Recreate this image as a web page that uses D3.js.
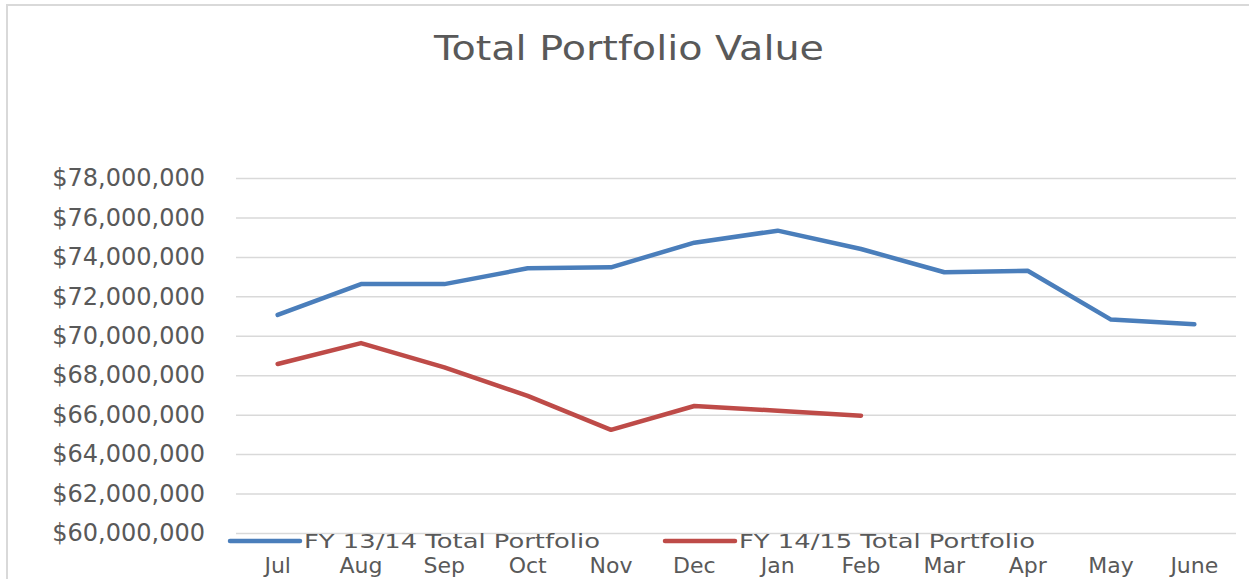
<!DOCTYPE html>
<html>
<head>
<meta charset="utf-8">
<script src="https://cdn.jsdelivr.net/npm/d3@7"></script>
<style>
  html, body { margin: 0; padding: 0; background: #fff; }
  svg { display: block; }
  text { font-family: "DejaVu Sans", sans-serif; fill: #595959; }
</style>
</head>
<body>
<div id="chart"></div>
<script>
// data
var months = ['Jul', 'Aug', 'Sep', 'Oct', 'Nov', 'Dec', 'Jan', 'Feb', 'Mar', 'Apr', 'May', 'June'];
var fy1314 = [71060000, 72620000, 72620000, 73420000, 73470000, 74720000, 75330000, 74400000, 73220000, 73300000, 70820000, 70580000];
var fy1415 = [68570000, 69630000, 68400000, 66950000, 65230000, 66440000, 66200000, 65950000];
var yTicks = [60000000, 62000000, 64000000, 66000000, 68000000, 70000000, 72000000, 74000000, 76000000, 78000000];
var seriesNames = ['FY 13/14 Total Portfolio', 'FY 14/15 Total Portfolio'];

function draw(svg, width, height) {

	svg
		.attr('width', width)
		.attr('height', height);

	// chart border
	svg.append('path')
		.attr('d', 'M7,' + height + 'V5H' + width)
		.attr('fill', 'none')
		.attr('stroke', '#d9d9d9')
		.attr('stroke-width', 2);

	// title
	svg.append('text')
		.attr('x', 629)
		.attr('y', 60)
		.attr('text-anchor', 'middle')
		.attr('font-size', 34)
		.attr('textLength', 390)
		.attr('lengthAdjust', 'spacingAndGlyphs')
		.text('Total Portfolio Value');

	var left = 236, right = 1236, top = 178, bottom = 533;

	// x-scale
	var xScale = d3.scaleBand()
		.domain(months)
		.range([left, right]);

	// y-scale
	var yScale = d3.scaleLinear()
		.domain([60000000, 78000000])
		.range([bottom, top]);

	var fmt = d3.format('$,');

	// y-grid
	svg.append('g')
		.attr('class', 'y-grid')
		.attr('transform', 'translate(' + left + ',0)')
		.call(d3.axisLeft(yScale)
			.tickValues(yTicks)
			.tickSize(-(right - left))
			.tickFormat(''))
		.call(function(g) {
			g.select('.domain').remove();
			g.selectAll('line').attr('stroke', '#d9d9d9').attr('stroke-width', 1.5);
		});

	// y-axis labels
	svg.append('g')
		.attr('class', 'y-axis')
		.attr('transform', 'translate(205,0)')
		.call(d3.axisLeft(yScale)
			.tickValues(yTicks)
			.tickSize(0)
			.tickPadding(0)
			.tickFormat(fmt))
		.call(function(g) {
			g.select('.domain').remove();
			g.selectAll('text')
				.attr('font-size', 24)
				.attr('font-family', '"DejaVu Sans", sans-serif')
				.attr('fill', '#595959');
		});

	// x-axis labels
	svg.append('g')
		.attr('class', 'x-axis')
		.attr('transform', 'translate(0,557)')
		.call(d3.axisBottom(xScale)
			.tickSize(0)
			.tickPadding(0))
		.call(function(g) {
			g.select('.domain').remove();
			g.selectAll('text')
				.attr('font-size', 22)
				.attr('font-family', '"DejaVu Sans", sans-serif')
				.attr('fill', '#595959');
		});

	var line = d3.line()
		.x(function(d, i) { return xScale(months[i]) + xScale.bandwidth() / 2; })
		.y(function(d) { return yScale(d); });

	var series = [
		{ name: seriesNames[0], values: fy1314, color: '#4a7ebb' },
		{ name: seriesNames[1], values: fy1415, color: '#be4b48' }
	];

	svg.append('g')
		.attr('class', 'data')
		.selectAll('path').data(series)
		.enter()
		.append('path')
		.attr('d', function(d) { return line(d.values); })
		.attr('fill', 'none')
		.attr('stroke', function(d) { return d.color; })
		.attr('stroke-width', 4.5)
		.attr('stroke-linecap', 'round')
		.attr('stroke-linejoin', 'round');

	// legend
	var legendX = [230, 665];
	var legend = svg.append('g')
		.attr('class', 'legend')
		.selectAll('g').data(series)
		.enter()
		.append('g')
		.attr('transform', function(d, i) { return 'translate(' + legendX[i] + ',541)'; });

	legend.append('line')
		.attr('x1', 0)
		.attr('x2', 70)
		.attr('stroke', function(d) { return d.color; })
		.attr('stroke-width', 4.5)
		.attr('stroke-linecap', 'round');

	legend.append('text')
		.attr('x', 74)
		.attr('y', 7)
		.attr('font-size', 19.5)
		.attr('textLength', 296)
		.attr('lengthAdjust', 'spacingAndGlyphs')
		.text(function(d) { return d.name; });
}

var svg = d3.select('#chart').append('svg');
draw(svg, 1249, 579);
</script>
</body>
</html>
